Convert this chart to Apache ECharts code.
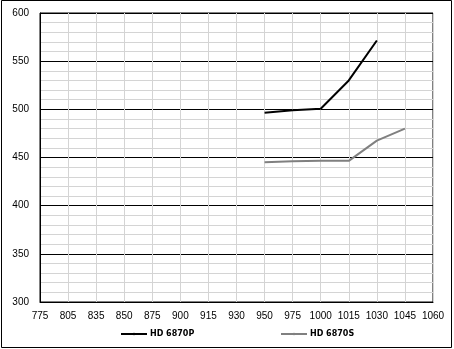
<!DOCTYPE html>
<html><head><meta charset="utf-8">
<script src="https://cdn.jsdelivr.net/npm/echarts@6/dist/echarts.min.js"></script>
<style>html,body{margin:0;padding:0;background:#fff}#c{width:454px;height:349px}</style>
</head><body><div id="c"></div>
<script>
const categories = ['775','805','835','850','875','900','915','930','950','975','1000','1015','1030','1045','1060'];
const seriesNames = ['HD 6870P', 'HD 6870S'];
const hd6870P = [null,null,null,null,null,null,null,null,496.5,499,500.6,530,571.5,null,null];
const hd6870S = [null,null,null,null,null,null,null,null,445,446,446.5,446.5,467.5,480,null];
const yMin = 300, yMax = 600, yStep = 50;

const chart = echarts.init(document.getElementById('c'), null, {renderer:'canvas'});
const font = 'Liberation Sans';
const legFont = 'DejaVu Sans';
chart.setOption({
  animation:false,
  backgroundColor:'#fff',
  graphic:[{type:'rect', shape:{x:1.5,y:0.5,width:450,height:347}, style:{fill:'none',stroke:'#000',lineWidth:1}, silent:true, z:100}],
  grid:{left:40,right:21,top:13,bottom:47,show:true,borderColor:'#000',borderWidth:1},
  legend:[
    {data:[seriesNames[0]], left:120, top:330, itemWidth:26, itemHeight:3, itemGap:0, padding:0,
     textStyle:{fontFamily:legFont,fontSize:8,fontWeight:'bold',color:'#000',padding:[0,0,0,-2]}},
    {data:[seriesNames[1]], left:280, top:330, itemWidth:26, itemHeight:3, itemGap:0, padding:0,
     textStyle:{fontFamily:legFont,fontSize:8,fontWeight:'bold',color:'#000',padding:[0,0,0,-2]}}
  ],
  xAxis:{type:'category', data:categories, boundaryGap:false,
    axisLine:{lineStyle:{color:'#000'}}, axisTick:{show:false},
    axisLabel:{fontFamily:font,fontSize:10,color:'#000',margin:9,interval:0},
    splitLine:{show:true,interval:0,lineStyle:{color:'#d4d4d4',width:1}}},
  yAxis:{type:'value', min:yMin, max:yMax, interval:yStep,
    axisLine:{show:true,lineStyle:{color:'#000'}}, axisTick:{show:false},
    axisLabel:{fontFamily:font,fontSize:10,color:'#000',margin:11},
    splitLine:{lineStyle:{color:'#000',width:1}},
    minorTick:{show:false,splitNumber:5},
    minorSplitLine:{show:true,lineStyle:{color:'#d4d4d4',width:1}}},
  series:[
    {name:seriesNames[0], type:'line', data:hd6870P, symbol:'none', connectNulls:false,
     lineStyle:{color:'#000',width:2}, itemStyle:{color:'#000'}, z:5},
    {name:seriesNames[1], type:'line', data:hd6870S, symbol:'none', connectNulls:false,
     lineStyle:{color:'#808080',width:2}, itemStyle:{color:'#808080'}, z:4}
  ]
});
</script></body></html>
